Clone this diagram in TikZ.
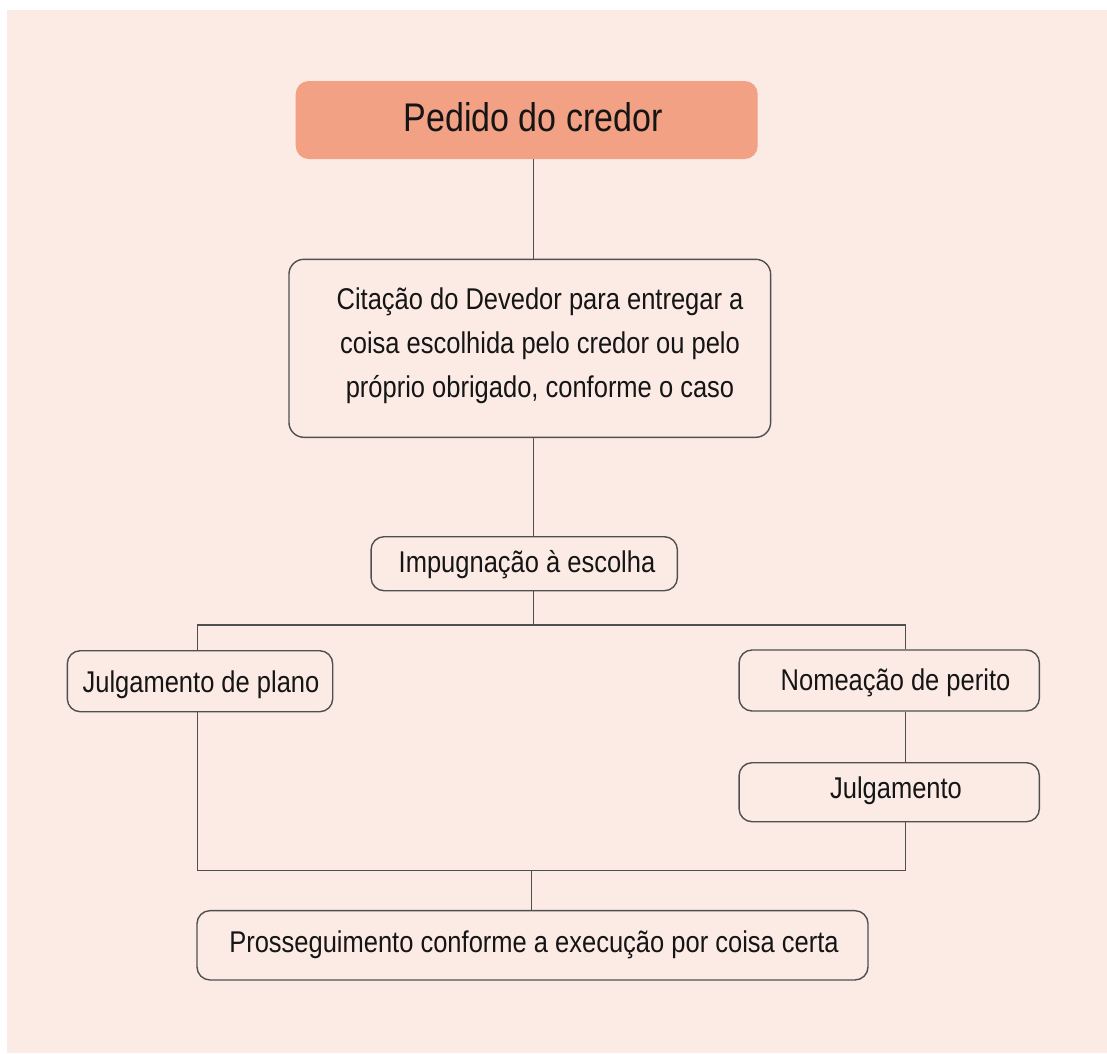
\documentclass[tikz,border=0pt]{standalone}
\usepackage{fontspec}
\setmainfont{Liberation Sans}[FakeStretch=0.85]
\definecolor{bgpink}{HTML}{FCEBE4}
\definecolor{headfill}{HTML}{F2A184}
\definecolor{lineclr}{HTML}{4F4F4F}
\definecolor{txtclr}{HTML}{151515}
\tikzset{
  conn/.style={draw=lineclr, line width=1.4pt},
  boxnode/.style={draw=lineclr, line width=1.4pt, fill=bgpink, rounded corners=13pt, inner sep=0pt},
  headnode/.style={fill=headfill, rounded corners=13pt, inner sep=0pt},
  txtnode/.style={anchor=base, inner sep=0pt, text=txtclr, font=\fontsize{30}{36}\selectfont},
  headtxt/.style={anchor=base, inner sep=0pt, text=txtclr, font=\fontsize{40}{48}\selectfont}
}
\begin{document}
\begin{tikzpicture}[x=1pt,y=-1pt]
\useasboundingbox (0,0) rectangle (1107,1053);
\fill[bgpink] (7,10) rectangle (1107,1053);

% boxes
\node[headnode, minimum width=462pt, minimum height=78pt] (ped) at (526.7,120) {};
\node[boxnode, minimum width=481.7pt, minimum height=178pt, rounded corners=15pt] (cit) at (529.8,348.3) {};
\node[boxnode, minimum width=306.3pt, minimum height=54pt] (imp) at (524.2,563.7) {};
\node[boxnode, minimum width=265.4pt, minimum height=61pt] (jdp) at (200,681.2) {};
\node[boxnode, minimum width=300.3pt, minimum height=61pt] (nom) at (889.2,680.5) {};
\node[boxnode, minimum width=300.3pt, minimum height=59pt] (jul) at (889.2,792.2) {};
\node[boxnode, minimum width=671pt, minimum height=69.3pt] (pro) at (532.5,945.3) {};

% junction coordinates
\coordinate (sp) at (533.5,0);
\coordinate (j1) at (533.5,625);
\coordinate (j1l) at (197.7,625);
\coordinate (j1r) at (905.5,625);
\coordinate (j2) at (531.7,870.7);
\coordinate (j2l) at (197.7,870.7);
\coordinate (j2r) at (905.5,870.7);

% connectors
\draw[conn] (ped.south -| sp) -- (cit.north -| sp);
\draw[conn] (cit.south -| sp) -- (imp.north -| sp);
\draw[conn] (imp.south -| j1) -- (j1);
\draw[conn] (jdp.north -| j1l) -- (j1l) -- (j1r) -- (nom.north -| j1r);
\draw[conn] (nom.south -| j1r) -- (jul.north -| j1r);
\draw[conn] (jdp.south -| j2l) -- (j2l) -- (j2r) -- (jul.south -| j2r);
\draw[conn] (j2) -- (pro.north -| j2);

% texts
\node[headtxt] (ped-t) at (533,131) {Pedido do credor};
\node[txtnode] (cit-t1) at (540,309) {Citação do Devedor para entregar a};
\node[txtnode] (cit-t2) at (540,353) {coisa escolhida pelo credor ou pelo};
\node[txtnode] (cit-t3) at (540,397) {próprio obrigado, conforme o caso};
\node[txtnode] (imp-t) at (527,572) {Impugnação à escolha};
\node[txtnode] (jdp-t) at (201,692) {Julgamento de plano};
\node[txtnode] (nom-t) at (895.5,690) {Nomeação de perito};
\node[txtnode] (jul-t) at (896,798) {Julgamento};
\node[txtnode] (pro-t) at (534,952) {Prosseguimento conforme a execução por coisa certa};
\end{tikzpicture}
\end{document}
